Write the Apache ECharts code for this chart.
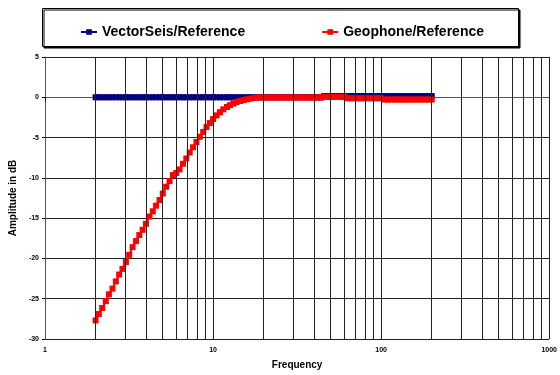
<!DOCTYPE html>
<html>
<head>
<meta charset="utf-8">
<script src="https://cdn.jsdelivr.net/npm/echarts@6/dist/echarts.min.js"></script>
<style>html,body{margin:0;padding:0;background:#fff}#c{width:560px;height:375px}</style>
</head>
<body>
<div id="c"></div>
<script>
const frequency = [
  2.00, 2.09, 2.19, 2.30, 2.40, 2.52, 2.64, 2.76, 2.89, 3.03,
  3.17, 3.32, 3.48, 3.64, 3.81, 3.99, 4.18, 4.38, 4.58, 4.80,
  5.02, 5.26, 5.51, 5.77, 6.04, 6.32, 6.62, 6.93, 7.26, 7.60,
  7.96, 8.34, 8.73, 9.14, 9.57, 10.0, 10.5, 11.0, 11.5, 12.1,
  12.6, 13.2, 13.8, 14.5, 15.2, 15.9, 16.6, 17.4, 18.2, 19.1,
  20.0, 20.9, 21.9, 23.0, 24.0, 25.2, 26.4, 27.6, 28.9, 30.3,
  31.7, 33.2, 34.8, 36.4, 38.1, 39.9, 41.8, 43.8, 45.8, 48.0,
  50.2, 52.6, 55.1, 57.7, 60.4, 63.2, 66.2, 69.3, 72.6, 76.0,
  79.6, 83.4, 87.3, 91.4, 95.7, 100, 105, 110, 115, 121,
  126, 132, 138, 145, 152, 159, 166, 174, 182, 191, 200
];
const vectorSeis = [
  0, 0, 0, 0, 0, 0, 0, 0, 0, 0,
  0, 0, 0, 0, 0, 0, 0, 0, 0, 0,
  0, 0, 0, 0, 0, 0, 0, 0, 0, 0,
  0, 0, 0, 0, 0, 0, 0, 0, 0, 0,
  0, 0, 0, 0, 0, 0, 0, 0, 0, 0,
  0, 0, 0, 0, 0, 0, 0, 0, 0, 0,
  0, 0, 0, 0, 0, 0, 0, 0, 0.15, 0.15,
  0.15, 0.15, 0.15, 0.15, 0.15, 0.15, 0.15, 0.15, 0.15, 0.15,
  0.15, 0.15, 0.15, 0.15, 0.15, 0.15, 0.15, 0.15, 0.15, 0.15,
  0.15, 0.15, 0.15, 0.15, 0.15, 0.15, 0.15, 0.15, 0.15, 0.15, 0.15
];
const geophone = [
  -27.7, -26.9, -26.15, -25.3, -24.45, -23.75, -22.85, -22.0, -21.3, -20.45,
  -19.55, -18.6, -17.85, -17.1, -16.45, -15.7, -14.8, -14.15, -13.45, -12.75,
  -11.95, -11.1, -10.4, -9.65, -9.4, -8.95, -8.25, -7.6, -6.85, -6.2,
  -5.55, -4.9, -4.3, -3.7, -3.2, -2.7, -2.25, -1.85, -1.5, -1.2,
  -0.98, -0.78, -0.6, -0.46, -0.35, -0.25, -0.17, -0.1, -0.05, -0.02,
  -0.03, -0.03, -0.03, -0.03, -0.03, -0.03, -0.03, -0.03, -0.03, -0.03,
  -0.03, -0.03, -0.03, -0.03, -0.03, -0.03, -0.03, -0.03, 0.05, 0.05,
  0.05, 0.05, 0.05, 0.05, 0.05, -0.12, -0.12, -0.12, -0.12, -0.12,
  -0.12, -0.12, -0.12, -0.12, -0.12, -0.12, -0.28, -0.28, -0.28, -0.28,
  -0.28, -0.28, -0.28, -0.28, -0.28, -0.28, -0.28, -0.28, -0.28, -0.28, -0.28
];
const xTickValues = [1,2,3,4,5,6,7,8,9,10,20,30,40,50,60,70,80,90,100,200,300,400,500,600,700,800,900,1000];
const xLabelValues = [1, 10, 100, 1000];
const seriesNames = ['VectorSeis/Reference', 'Geophone/Reference'];

const chart = echarts.init(document.getElementById('c'), null, {renderer: 'canvas'});
const pair = (vals) => frequency.map((f, i) => [f, vals[i]]);
const font = 'Arial, "Liberation Sans", sans-serif';

chart.setOption({
  animation: false,
  backgroundColor: '#fff',
  graphic: [{
    type: 'rect', z: 0,
    shape: {x: 42.5, y: 8.5, width: 476, height: 38},
    style: {fill: '#fff', stroke: '#000', lineWidth: 1, shadowColor: '#000', shadowOffsetX: 1.5, shadowOffsetY: 1.5, shadowBlur: 0}
  }],
  legend: {
    left: 75, top: 20, itemWidth: 16, itemHeight: 7, itemGap: 76,
    textStyle: {fontFamily: font, fontWeight: 700, fontSize: 14, color: '#000'},
    data: seriesNames.map(n => ({name: n, textStyle: {fontWeight: 700, fontFamily: font, fontSize: 14}}))
  },
  grid: {left: 41, right: 4, top: 57, bottom: 34},
  xAxis: {
    type: 'log', logBase: 10, min: 1, max: 1000,
    name: 'Frequency', nameLocation: 'middle', nameGap: 21,
    nameTextStyle: {fontFamily: font, fontWeight: 'bold', fontSize: 10, color: '#000'},
    axisLine: {show: true, lineStyle: {color: '#555', width: 1}},
    axisTick: {show: true, length: 4, inside: false, customValues: xTickValues, lineStyle: {color: '#000'}},
    axisLabel: {customValues: xLabelValues, formatter: v => String(Math.round(v)), fontFamily: font, fontWeight: 'bold', fontSize: 7, color: '#000', margin: 8},
    splitLine: {show: false}
  },
  yAxis: {
    type: 'value', min: -30, max: 5, interval: 5,
    name: 'Amplitude in dB', nameLocation: 'middle', nameGap: 22,
    nameTextStyle: {fontFamily: font, fontWeight: 'bold', fontSize: 10, color: '#000'},
    axisLine: {show: true, lineStyle: {color: '#555', width: 1}},
    axisTick: {show: true, length: 3, lineStyle: {color: '#000'}},
    axisLabel: {fontFamily: font, fontWeight: 'bold', fontSize: 7, color: '#000', margin: 6},
    splitLine: {show: true, lineStyle: {color: '#222', width: 1}}
  },
  series: [
    {
      type: 'line', name: '_grid', data: [], z: 1, silent: true,
      markLine: {
        silent: true, symbol: ['none', 'none'], label: {show: false},
        lineStyle: {color: '#222', width: 1, type: 'solid'},
        animation: false,
        data: xTickValues.slice(1).map(v => ({xAxis: v}))
      }
    },
    {
      type: 'line', name: seriesNames[0], data: pair(vectorSeis), z: 3,
      symbol: 'rect', symbolSize: 6, showAllSymbol: true,
      itemStyle: {color: '#000080'}, lineStyle: {color: '#000080', width: 2}
    },
    {
      type: 'line', name: seriesNames[1], data: pair(geophone), z: 4,
      symbol: 'rect', symbolSize: 6, showAllSymbol: true,
      itemStyle: {color: '#ff0000'}, lineStyle: {color: '#ff0000', width: 2}
    }
  ]
});
</script>
</body>
</html>
